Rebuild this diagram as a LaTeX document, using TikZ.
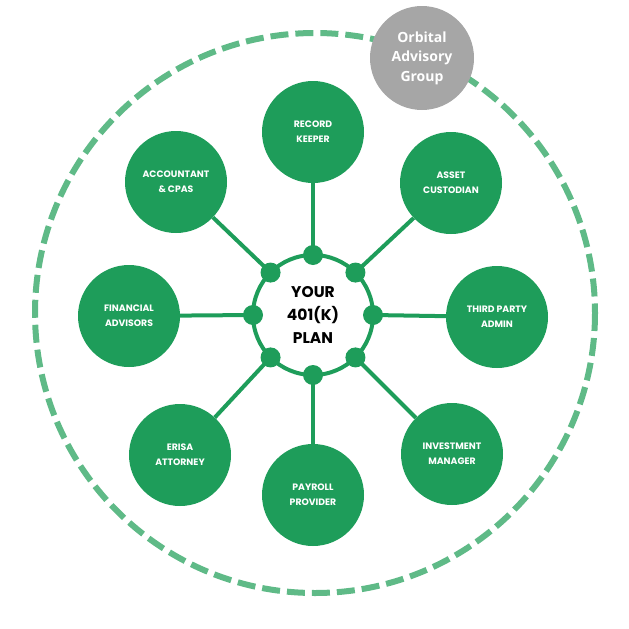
\documentclass[tikz,border=0pt]{standalone}
\usepackage{fontspec}
\usetikzlibrary{calc}
\setmainfont{Poppins}
\newfontfamily\orbfont{Open Sans}
\definecolor{mgreen}{RGB}{30,157,90}
\definecolor{lgreen}{RGB}{95,186,135}
\definecolor{ggray}{RGB}{166,166,166}
\begin{document}
\begin{tikzpicture}[x=1pt,y=-1pt,
  sat/.style={circle,fill=mgreen,minimum size=102pt,inner sep=0pt,text=white,
    font=\fontsize{9.3}{15}\selectfont\bfseries,align=center},
  hub/.style={circle,fill=mgreen,minimum size=20pt,inner sep=0pt},
  link/.style={draw=mgreen,line width=4pt}]
\useasboundingbox (0,0) rectangle (629,629);
% outer dashed orbit
\draw[lgreen,line width=6pt,dash pattern=on 18pt off 7pt] (315,313) circle (280);
% orbital advisory group
\node[circle,fill=ggray,minimum size=104pt,inner sep=0pt,text=white,align=center,
  font=\orbfont\fontsize{14}{19.5}\selectfont\bfseries] (oag) at (422,58) {Orbital\\Advisory\\Group};
% centre
\coordinate (c) at (313,315);
\node[circle,draw=mgreen,line width=4pt,minimum size=120pt,inner sep=0pt,align=center,
  font=\fontsize{15.5}{23}\selectfont\bfseries] (plan) at (c) {YOUR\\401(K)\\PLAN};
% hub dots
\foreach \a/\n in {90/h1,45/h2,0/h3,-45/h4,-90/h5,-135/h6,180/h7,135/h8}
  \node[hub] (\n) at ($(c)+(\a:60 and -60)$) {};
% satellites
\node[sat] (rk) at (313,132) {RECORD\\KEEPER};
\node[sat] (ac) at (451,183) {ASSET\\CUSTODIAN};
\node[sat] (tpa) at (497,317) {THIRD PARTY\\ADMIN};
\node[sat] (im) at (452,454) {INVESTMENT\\MANAGER};
\node[sat] (pp) at (313,495) {PAYROLL\\PROVIDER};
\node[sat] (ea) at (180,455) {ERISA\\ATTORNEY};
\node[sat] (fa) at (129,316) {FINANCIAL\\ADVISORS};
\node[sat] (acc) at (176,182) {ACCOUNTANT\\\& CPAS};
% connectors
\draw[link] (h1.center) -- (rk);
\draw[link] (h2.center) -- (ac);
\draw[link] (h3.center) -- (tpa);
\draw[link] (h4.center) -- (im);
\draw[link] (h5.center) -- (pp);
\draw[link] (h6.center) -- (ea);
\draw[link] (h7.center) -- (fa);
\draw[link] (h8.center) -- (acc);
\end{tikzpicture}
\end{document}
